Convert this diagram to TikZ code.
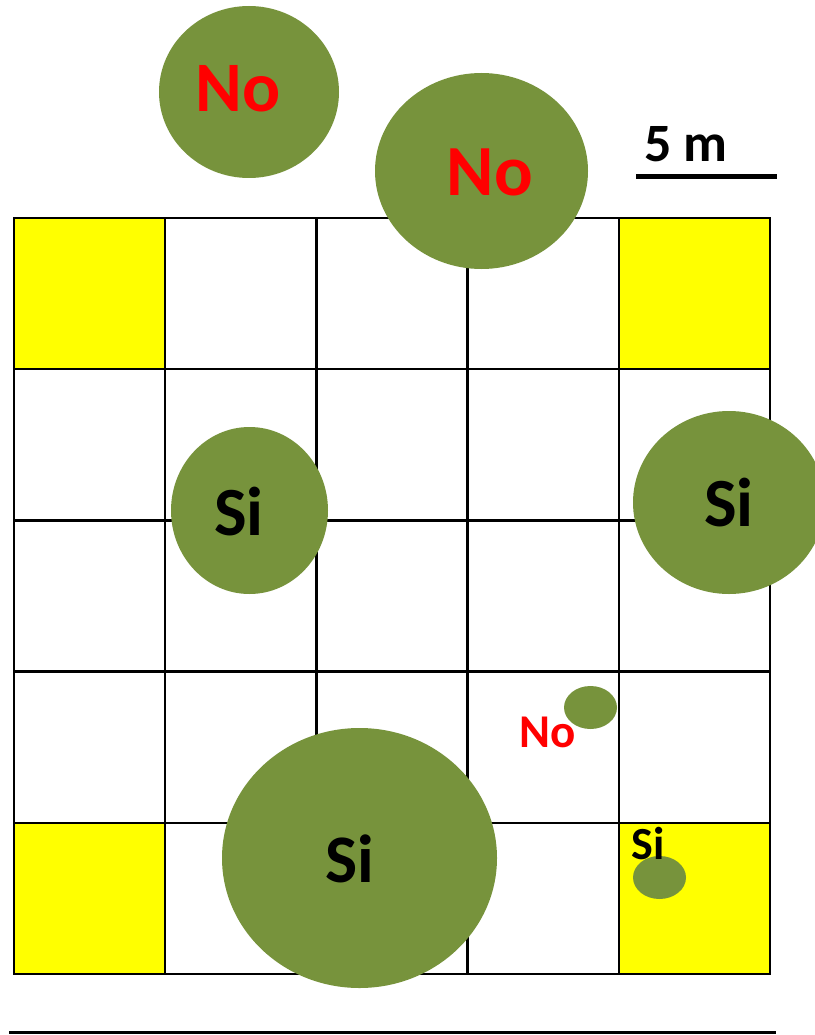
\documentclass[tikz,border=0pt]{standalone}
\usepackage{fontspec}
\setmainfont{Carlito}
\usetikzlibrary{shapes.geometric}
\definecolor{leaf}{HTML}{77933C}
\definecolor{sun}{HTML}{FFFF00}
\definecolor{nored}{HTML}{FF0000}
\tikzset{
  gridline/.style={line width=2.5pt, black, line cap=rect},
  yel/.style={fill=sun},
  blob/.style={ellipse, fill=leaf, draw=none, inner sep=0pt},
  lab/.style={inner sep=0pt, anchor=center, font=\bfseries},
  nolab/.style={lab, text=nored},
  silab/.style={lab, text=black},
}
\begin{document}
\begin{tikzpicture}[x=1pt,y=-1pt]
\useasboundingbox (0,0) rectangle (814,1035);
% yellow cells
\fill[yel] (14,218) rectangle (165.2,369.2);
\fill[yel] (618.8,218) rectangle (770,369.2);
\fill[yel] (14,822.8) rectangle (165.2,974);
\fill[yel] (618.8,822.8) rectangle (770,974);
% grid
\foreach \i in {0,...,5} {
  \draw[gridline] (14+151.2*\i,218) -- (14+151.2*\i,974);
  \draw[gridline] (14,218+151.2*\i) -- (770,218+151.2*\i);
}
% ellipses
\node[blob, minimum width=180pt, minimum height=172pt] (e1) at (249,92) {};
\node[blob, minimum width=213pt, minimum height=196pt] (e2) at (481.5,171) {};
\node[blob, minimum width=157pt, minimum height=167pt] (e3) at (249.5,510.5) {};
\node[blob, minimum width=192pt, minimum height=183pt] (e4) at (729,502.5) {};
\node[blob, minimum width=53pt, minimum height=43pt] (e5) at (590.5,707.5) {};
\node[blob, minimum width=275pt, minimum height=260pt] (e6) at (359.5,858) {};
\node[blob, minimum width=53pt, minimum height=43pt] (e7) at (659.5,877.5) {};
% labels
\node[nolab, font=\bfseries\fontsize{71}{71}\selectfont] (t1) at (238,88.5) {No};
\node[nolab, font=\bfseries\fontsize{72}{72}\selectfont] (t2) at (490,172) {No};
\node[silab, font=\bfseries\fontsize{69}{69}\selectfont] (t3) at (239,512) {Si};
\node[silab, font=\bfseries\fontsize{69}{69}\selectfont] (t4) at (729,503) {Si};
\node[nolab, font=\bfseries\fontsize{47}{47}\selectfont] (t5) at (548,732) {No};
\node[silab, font=\bfseries\fontsize{68}{68}\selectfont] (t6) at (350,859) {Si};
\node[silab, font=\bfseries\fontsize{46}{46}\selectfont] (t7) at (648,843.5) {Si};
% scale bar
\node[silab, font=\bfseries\fontsize{54}{54}\selectfont] (sc) at (686,144) {5 m};
\coordinate (sa) at (636,177);
\coordinate (sb) at (777,177);
\draw[line width=5pt] (sa) -- (sb);
% bottom line
\coordinate (ba) at (9,1032);
\coordinate (bb) at (776,1032);
\draw[line width=3pt] (ba) -- (bb);
\end{tikzpicture}
\end{document}
